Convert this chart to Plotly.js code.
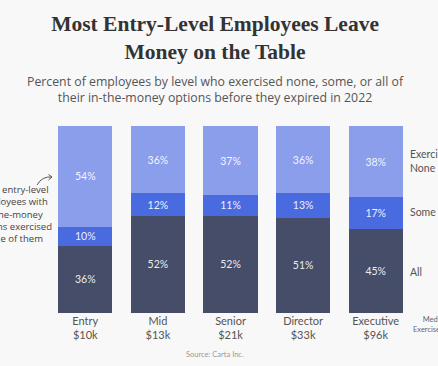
<!DOCTYPE html>
<html>
<head>
<meta charset="utf-8">
<script src="https://cdn.plot.ly/plotly-3.0.1.min.js"></script>
<style>html,body{margin:0;padding:0;background:#f8f8f8;}#chart{width:438px;height:366px;}</style>
</head>
<body>
<div id="chart"></div>
<script>
const categories = ['Entry', 'Mid', 'Senior', 'Director', 'Executive'];
const medianCost = ['$10k', '$13k', '$21k', '$33k', '$96k'];
const allPct = [36, 52, 52, 51, 45];
const somePct = [10, 12, 11, 13, 17];
const nonePct = [54, 36, 37, 36, 38];
const seriesNames = ['All', 'Some', 'Exercised<br>None'];
const noteLines = ['Most entry-level', 'employees with', 'in-the-money', 'options exercised', 'none of them'];

const SANS = '"Open Sans", Lato, sans-serif';
const SANS2 = 'Lato, "Open Sans", sans-serif';
const tickText = categories.map((c, i) => c + '<br>' + medianCost[i]);

function mk(vals, name, color) {
  return {
    type: 'bar', x: categories, y: vals, name: name,
    marker: {color: color, line: {width: 0}},
    text: vals.map(v => v + '%'), textposition: 'inside', insidetextanchor: 'middle',
    textfont: {family: SANS2, size: 10.5, color: 'rgba(255,255,255,0.92)'},
    constraintext: 'none', hoverinfo: 'skip'
  };
}
const data = [
  mk(allPct, 'All', '#464d68'),
  mk(somePct, 'Some', '#4a6be0'),
  mk(nonePct, 'Exercised None', '#8b9eec')
];

function px2x(p) { return (p - 49) / 363; }
function px2y(p) { return (313 - p) / 187; }

const arrowPath = 'M ' + px2x(37) + ',' + px2y(185) + ' Q ' + px2x(42) + ',' + px2y(176) + ' ' + px2x(52) + ',' + px2y(177);
const headPath = 'M ' + px2x(48.5) + ',' + px2y(174.5) + ' L ' + px2x(52) + ',' + px2y(177) + ' L ' + px2x(48.5) + ',' + px2y(180);

const annotations = [
  {text: 'Percent of employees by level who exercised none, some, or all of<br>their in-the-money options before they expired in 2022',
   xref: 'paper', yref: 'paper', x: px2x(215), y: px2y(89.5), xanchor: 'center', yanchor: 'middle',
   showarrow: false, font: {family: SANS, size: 12.3, color: '#555555'}, align: 'center'},
  {text: noteLines.join('<br>'), xref: 'paper', yref: 'paper', x: px2x(13), y: px2y(213.5), xanchor: 'center', yanchor: 'middle',
   showarrow: false, font: {family: SANS, size: 9.5, color: '#444444'}, align: 'center'},
  {text: seriesNames[2], xref: 'paper', yref: 'paper', x: px2x(408), y: px2y(161), xanchor: 'left', yanchor: 'middle',
   showarrow: false, font: {family: SANS2, size: 10.5, color: '#555555'}, align: 'left'},
  {text: seriesNames[1], xref: 'paper', yref: 'paper', x: px2x(408), y: px2y(212), xanchor: 'left', yanchor: 'middle',
   showarrow: false, font: {family: SANS2, size: 10.5, color: '#555555'}, align: 'left'},
  {text: seriesNames[0], xref: 'paper', yref: 'paper', x: px2x(408), y: px2y(271.5), xanchor: 'left', yanchor: 'middle',
   showarrow: false, font: {family: SANS2, size: 10.5, color: '#555555'}, align: 'left'},
  {text: 'Median<br>Exercise Cost', xref: 'paper', yref: 'paper', x: px2x(435), y: px2y(324), xanchor: 'center', yanchor: 'middle',
   showarrow: false, font: {family: SANS2, size: 7.5, color: '#666666'}, align: 'center'},
  {text: 'Source: Carta Inc.', xref: 'paper', yref: 'paper', x: px2x(215), y: px2y(354), xanchor: 'center', yanchor: 'middle',
   showarrow: false, font: {family: SANS2, size: 7.5, color: '#999999'}}
];

const layout = {
  width: 438, height: 366,
  paper_bgcolor: '#f8f8f8', plot_bgcolor: '#f8f8f8',
  margin: {l: 49, r: 26, t: 126, b: 53},
  barmode: 'stack', bargap: 0.255, showlegend: false,
  title: {
    text: 'Most Entry-Level Employees Leave<br>Money on the Table',
    font: {family: '"Liberation Serif", serif', size: 21.5, color: '#333333', weight: 'bold'},
    xref: 'container', x: 0.491, xanchor: 'center',
    yref: 'container', y: 1 - 31 / 366, yanchor: 'middle'
  },
  xaxis: {
    tickmode: 'array', tickvals: categories, ticktext: tickText,
    tickfont: {family: SANS2, size: 11, color: '#555555'},
    showgrid: false, zeroline: false, showline: false, ticks: '', fixedrange: true
  },
  yaxis: {range: [0, 100], showgrid: false, zeroline: false, showticklabels: false, showline: false, fixedrange: true},
  annotations: annotations,
  shapes: [
    {type: 'path', xref: 'paper', yref: 'paper', path: arrowPath, line: {color: '#555555', width: 1}},
    {type: 'path', xref: 'paper', yref: 'paper', path: headPath, line: {color: '#555555', width: 1}}
  ]
};

Plotly.newPlot('chart', data, layout, {displayModeBar: false, staticPlot: true});
</script>
</body>
</html>
